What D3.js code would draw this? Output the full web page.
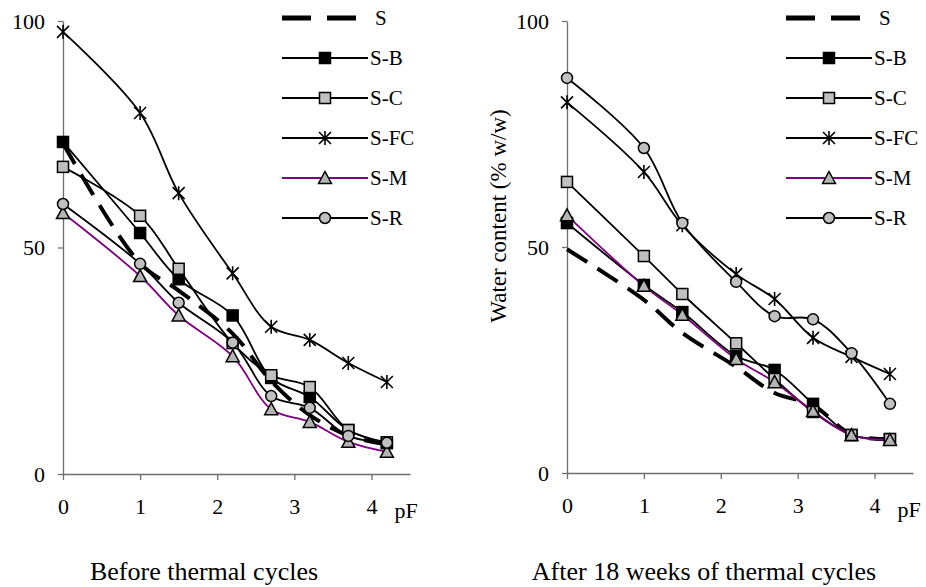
<!DOCTYPE html>
<html>
<head>
<meta charset="utf-8">
<script src="https://cdn.jsdelivr.net/npm/d3@7"></script>
<style>
  body { margin: 0; background: #fff; }
  text { font-family: "Liberation Serif", "Times New Roman", serif; fill: #000; }
  .axis path, .axis line { stroke: #6e6e6e; stroke-width: 1.3; }
  .axis text { font-size: 22px; }
</style>
</head>
<body>
<svg id="chart"></svg>
<script>
var W = 926, H = 587;

// data
var pF = [0, 1, 1.5, 2.2, 2.7, 3.2, 3.7, 4.2];
var seriesNames = ["S", "S-B", "S-C", "S-FC", "S-M", "S-R"];

var before_S   = [73, 46.5, 40.5, 31, 20.5, 13, 8.5, 6.5];
var before_SB  = [73.3, 53.2, 43, 35, 21.2, 17, 9.7, 6.8];
var before_SC  = [67.8, 57, 45.3, 28.9, 21.8, 19.2, 9.7, 7];
var before_SFC = [97.6, 79.7, 62, 44.3, 32.5, 29.6, 24.5, 20.3];
var before_SM  = [57.6, 43.7, 35, 26, 14.3, 11.5, 7.1, 4.9];
var before_SR  = [59.6, 46.4, 37.8, 29, 17.2, 14.6, 8.4, 6.9];

var after_S   = [49.5, 38.3, 31, 23.5, 17.7, 15, 8.5, 7.5];
var after_SB  = [55.3, 41.6, 35.6, 25.9, 22.8, 15.3, 8.4, 7.5];
var after_SC  = [64.4, 48, 39.6, 28.7, 20.8, 13.5, 8.4, 7.5];
var after_SFC = [82, 66.6, 54.8, 44, 38.5, 29.9, 25.7, 21.9];
var after_SM  = [57, 41.4, 35, 25.2, 20.1, 13.7, 8.4, 7.3];
var after_SR  = [87.4, 71.9, 55.3, 42.3, 34.7, 34, 26.5, 15.3];

var xTicks = [0, 1, 2, 3, 4];
var yTicks = [0, 50, 100];

var serif = "Liberation Serif, Times New Roman, serif";

var style = {
  "S":    {color: "#000", width: 4, dash: "24,12", marker: null},
  "S-B":  {color: "#000", width: 1.8, dash: null, marker: "squareBlack"},
  "S-C":  {color: "#000", width: 1.8, dash: null, marker: "squareGray"},
  "S-FC": {color: "#000", width: 1.8, dash: null, marker: "star"},
  "S-M":  {color: "#800080", width: 1.8, dash: null, marker: "triangle"},
  "S-R":  {color: "#000", width: 1.8, dash: null, marker: "circle"}
};

var panels = [
  {x0: 63, x1: 410, y0: 474, y1: 21, caption: "Before thermal cycles", capX: 204,
   legendX: 282, ylabel: null,
   data: [before_S, before_SB, before_SC, before_SFC, before_SM, before_SR]},
  {x0: 567, x1: 913, y0: 473, y1: 21, caption: "After 18 weeks of thermal cycles", capX: 704,
   legendX: 786, ylabel: "Water content (% w/w)",
   data: [after_S, after_SB, after_SC, after_SFC, after_SM, after_SR]}
];

var svg = d3.select("#chart").attr("width", W).attr("height", H);
svg.append("rect").attr("width", W).attr("height", H).attr("fill", "#fff");

function drawMarker(g, kind, cx, cy) {
  if (kind == "squareBlack" || kind == "squareGray") {
    g.append("rect").attr("x", cx - 5.5).attr("y", cy - 5.5).attr("width", 11).attr("height", 11)
      .attr("fill", kind == "squareBlack" ? "#000" : "#c0c0c0").attr("stroke", "#000").attr("stroke-width", 1.5);
  } else if (kind == "circle") {
    g.append("circle").attr("cx", cx).attr("cy", cy).attr("r", 5.5)
      .attr("fill", "#c0c0c0").attr("stroke", "#000").attr("stroke-width", 1.5);
  } else if (kind == "triangle") {
    g.append("path").attr("d", "M" + cx + "," + (cy - 6.5) + "L" + (cx + 6.5) + "," + (cy + 5.5) + "L" + (cx - 6.5) + "," + (cy + 5.5) + "Z")
      .attr("fill", "#b4b4b4").attr("stroke", "#000").attr("stroke-width", 1.5);
  } else if (kind == "star") {
    var r = 6;
    g.append("path").attr("d",
      "M" + (cx - r) + "," + (cy - r) + "L" + (cx + r) + "," + (cy + r) +
      "M" + (cx - r) + "," + (cy + r) + "L" + (cx + r) + "," + (cy - r) +
      "M" + cx + "," + (cy - r - 1) + "L" + cx + "," + (cy + r + 1))
      .attr("fill", "none").attr("stroke", "#000").attr("stroke-width", 1.6);
  }
}

panels.forEach(function(p) {
  var x = d3.scaleLinear().domain([0, 4.5]).range([p.x0, p.x1]);
  var y = d3.scaleLinear().domain([0, 100]).range([p.y0, p.y1]);

  var gx = svg.append("g").attr("class", "axis").attr("transform", "translate(0," + p.y0 + ")")
    .call(d3.axisBottom(x).tickValues(xTicks).tickFormat(d3.format("d")).tickSize(6).tickSizeOuter(0).tickPadding(14));
  gx.attr("font-family", serif).attr("font-size", 22);
  gx.selectAll(".tick text").attr("dy", "0.9em");
  gx.selectAll(".tick line").attr("stroke", "#333");

  var gy = svg.append("g").attr("class", "axis").attr("transform", "translate(" + p.x0 + ",0)")
    .call(d3.axisLeft(y).tickValues(yTicks).tickSize(5).tickSizeOuter(0).tickPadding(13));
  gy.attr("font-family", serif).attr("font-size", 22);
  gy.select(".domain").attr("stroke", "#888");

  svg.append("text").attr("x", x(4) + 23).attr("y", p.y0 + 44).attr("font-size", 22).text("pF");

  var line = d3.line().curve(d3.curveCatmullRom)
    .x(function(d) { return x(d[0]); }).y(function(d) { return y(d[1]); });

  p.data.forEach(function(vals, i) {
    var st = style[seriesNames[i]];
    var pts = pF.map(function(v, j) { return [v, vals[j]]; });
    svg.append("path").attr("d", line(pts)).attr("fill", "none")
      .attr("stroke", st.color).attr("stroke-width", st.width)
      .attr("stroke-dasharray", st.dash);
  });

  p.data.forEach(function(vals, i) {
    var st = style[seriesNames[i]];
    if (!st.marker) return;
    var g = svg.append("g");
    pF.forEach(function(v, j) { drawMarker(g, st.marker, x(v), y(vals[j])); });
  });

  // legend
  seriesNames.forEach(function(name, i) {
    var st = style[name];
    var ly = 18 + i * 40;
    var g = svg.append("g");
    if (name == "S") {
      g.append("line").attr("x1", p.legendX).attr("x2", p.legendX + 75).attr("y1", ly).attr("y2", ly)
        .attr("stroke", "#000").attr("stroke-width", 5).attr("stroke-dasharray", "29,16");
      g.append("text").attr("x", p.legendX + 93).attr("y", ly).attr("dy", "0.35em").attr("font-size", 21).text(name);
    } else {
      g.append("line").attr("x1", p.legendX).attr("x2", p.legendX + 86).attr("y1", ly).attr("y2", ly)
        .attr("stroke", st.color).attr("stroke-width", 1.8);
      drawMarker(g, st.marker, p.legendX + 43, ly);
      g.append("text").attr("x", p.legendX + 88).attr("y", ly).attr("dy", "0.35em").attr("font-size", 21).text(name);
    }
  });

  svg.append("text").attr("x", p.capX).attr("y", 580).attr("text-anchor", "middle")
    .attr("font-size", 26).text(p.caption);

  if (p.ylabel) {
    svg.append("text").attr("transform", "translate(506,216) rotate(-90)")
      .attr("text-anchor", "middle").attr("font-size", 23).text(p.ylabel);
  }
});
</script>
</body>
</html>
